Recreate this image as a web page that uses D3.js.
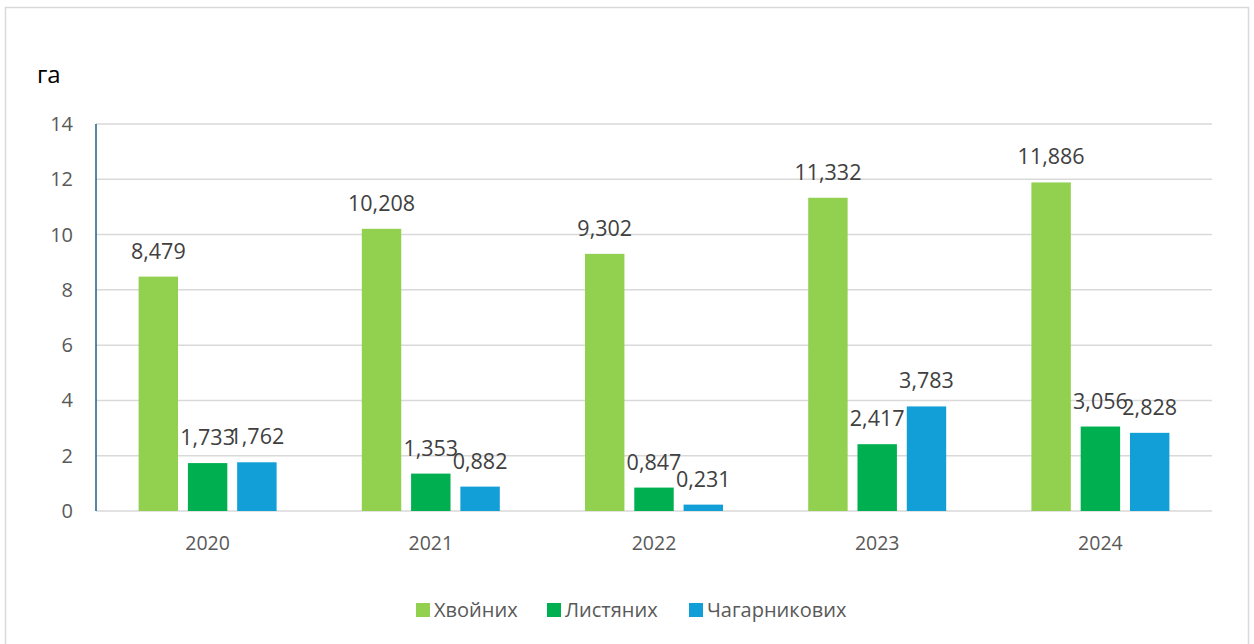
<!DOCTYPE html>
<html>
<head>
<meta charset="utf-8">
<script src="https://cdn.jsdelivr.net/npm/d3@7"></script>
<style>
  body { margin: 0; background: #fff; }
  text { font-family: "Open Sans", "Noto Sans", sans-serif; }
</style>
</head>
<body>
<div id="chart-area"></div>
<script>
// data
let years = ['2020', '2021', '2022', '2023', '2024']
let seriesNames = ['Хвойних', 'Листяних', 'Чагарникових']
let hvoynykh = [8.479, 10.208, 9.302, 11.332, 11.886]
let lystianykh = [1.733, 1.353, 0.847, 2.417, 3.056]
let chaharnykovykh = [1.762, 0.882, 0.231, 3.783, 2.828]
let yTicks = [0, 2, 4, 6, 8, 10, 12, 14]
let colors = ['#92D050', '#00B050', '#129FD7']

let width = 1254,
    height = 644

let svg = d3.select('#chart-area').append('svg')
  .attr('width', width)
  .attr('height', height)

// outer frame
svg.append('rect')
  .attr('x', 5.5).attr('y', 7.5)
  .attr('width', 1243).attr('height', 660)
  .attr('fill', '#fff')
  .attr('stroke', '#D9D9D9')
  .attr('stroke-width', 1.5)

let plotLeft = 96, plotRight = 1212, plotTop = 124, plotBottom = 511

let y = d3.scaleLinear().domain([0, 14]).range([plotBottom, plotTop])
let x0 = d3.scaleBand().domain(years).range([plotLeft, plotRight]).padding(0)
let x1 = d3.scaleBand().domain(seriesNames)
  .range([42.6, x0.bandwidth() - 42.6])
  .paddingInner(0.2)

let rows = years.map((yr, i) => ({
  year: yr,
  values: [hvoynykh[i], lystianykh[i], chaharnykovykh[i]]
    .map((v, j) => ({ key: seriesNames[j], value: v, color: colors[j] }))
}))

// gridlines
svg.append('g').selectAll('line')
  .data(yTicks)
  .enter().append('line')
  .attr('x1', plotLeft).attr('x2', plotRight)
  .attr('y1', d => y(d)).attr('y2', d => y(d))
  .attr('stroke', '#D9D9D9')
  .attr('stroke-width', 1.5)

// y tick labels
svg.append('g').selectAll('text')
  .data(yTicks)
  .enter().append('text')
  .attr('x', 73)
  .attr('y', d => y(d))
  .attr('dy', '0.35em')
  .attr('text-anchor', 'end')
  .attr('font-size', 20)
  .attr('fill', '#595959')
  .text(d => d)

// left axis line
svg.append('line')
  .attr('x1', plotLeft).attr('x2', plotLeft)
  .attr('y1', plotTop).attr('y2', plotBottom)
  .attr('stroke', '#1F5F84')
  .attr('stroke-width', 1.5)

// unit label
svg.append('text')
  .attr('x', 37).attr('y', 83)
  .attr('font-size', 24)
  .attr('fill', '#000')
  .text('га')

let groups = svg.selectAll('.grp')
  .data(rows)
  .enter().append('g')
  .attr('class', 'grp')
  .attr('transform', d => 'translate(' + x0(d.year) + ',0)')

groups.selectAll('rect')
  .data(d => d.values)
  .enter().append('rect')
  .attr('x', d => x1(d.key))
  .attr('y', d => y(d.value))
  .attr('width', x1.bandwidth())
  .attr('height', d => y(0) - y(d.value))
  .attr('fill', d => d.color)

let fmt = v => d3.format('.3f')(v).replace('.', ',')

groups.selectAll('.lbl')
  .data(d => d.values)
  .enter().append('text')
  .attr('class', 'lbl')
  .attr('x', d => x1(d.key) + x1.bandwidth() / 2)
  .attr('y', d => y(d.value) - 25.5)
  .attr('dy', '0.35em')
  .attr('text-anchor', 'middle')
  .attr('font-size', 21.5)
  .attr('fill', '#404040')
  .text(d => fmt(d.value))

// category labels
svg.append('g').selectAll('text')
  .data(years)
  .enter().append('text')
  .attr('x', d => x0(d) + x0.bandwidth() / 2)
  .attr('y', 543)
  .attr('dy', '0.35em')
  .attr('text-anchor', 'middle')
  .attr('font-size', 19.5)
  .attr('fill', '#595959')
  .text(d => d)

// legend
let legendX = [416, 547, 689]
let legend = svg.append('g').selectAll('g')
  .data(seriesNames)
  .enter().append('g')
  .attr('transform', (d, i) => 'translate(' + legendX[i] + ',603)')

legend.append('rect')
  .attr('width', 14).attr('height', 14)
  .attr('fill', (d, i) => colors[i])

legend.append('text')
  .attr('x', 18).attr('y', 7)
  .attr('dy', '0.35em')
  .attr('font-size', 20)
  .attr('fill', '#595959')
  .text(d => d)
</script>
</body>
</html>
